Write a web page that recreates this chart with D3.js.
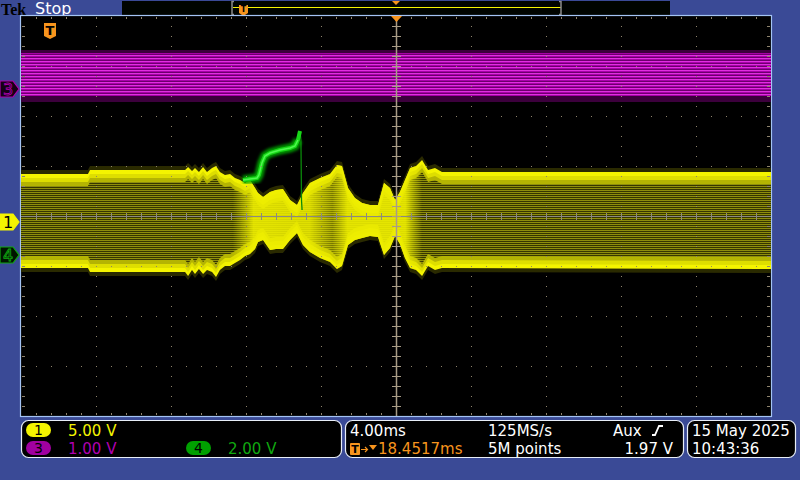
<!DOCTYPE html>
<html lang='en'>
<head>
<meta charset='UTF-8'>
<script src='https://d3js.org/d3.v7.min.js'></script>
<title>Tek Stop</title>
<style>
  body { margin: 0; background: #3a4a96; }
  svg { display: block; font-family: 'DejaVu Sans', sans-serif; }
</style>
</head>
<body>
<svg id='scope' width='800' height='480'></svg>
<script>
// ch1 envelope: time (ms, 0 = trigger) and min/max volts
const ch1Time = [-20, -16.43, -16.32, -11.25, -11.09, -10.88, -10.72, -10.51, -10.29, -10.08, -9.81, -9.60,
  -9.39, -9.12, -8.85, -8.59, -8.32, -8.05, -7.79, -7.52, -7.36, -7.09, -6.72, -6.40, -6.03, -5.65, -5.28,
  -4.96, -4.59, -4.05, -3.52, -3.15, -2.88, -2.56, -2.19, -1.81, -1.39, -0.96, -0.64, -0.32, -0.05, 0.21,
  0.48, 0.75, 1.07, 1.39, 1.71, 2.08, 2.45, 20]
const ch1Max = [4.8, 4.8, 5.2, 5.2, 5.5, 5.1, 5.4, 5.0, 5.5, 5.0, 5.4, 5.6,
  5.0, 4.7, 4.8, 4.4, 4.2, 3.9, 4.2, 3.4, 2.9, 2.5, 3.0, 3.2, 3.3, 2.2, 1.7,
  2.9, 3.9, 4.4, 4.8, 5.7, 5.6, 3.4, 2.4, 1.9, 1.7, 1.7, 3.9, 3.4, 2.2, 3.0,
  4.2, 5.4, 5.6, 6.2, 5.2, 5.4, 5.0, 5.0]
const ch1Min = [-4.6, -4.6, -5.0, -5.0, -5.4, -4.8, -5.2, -4.7, -5.2, -4.8, -5.0, -5.5,
  -4.8, -4.4, -4.4, -4.1, -3.8, -3.4, -3.2, -2.7, -2.0, -1.8, -2.8, -2.7, -2.7, -1.8, -1.1,
  -2.3, -3.0, -3.6, -4.0, -4.7, -4.4, -2.3, -1.8, -1.6, -1.4, -1.5, -3.3, -2.6, -1.4, -2.2,
  -3.6, -4.6, -4.8, -5.4, -4.4, -4.8, -4.6, -4.7]

// ch3 is a steady band
const ch3Band = [-0.14, 0.72]

// ch4 burst (time ms, volts)
const ch4Time = [-8.16, -7.79, -7.41, -7.31, -7.15, -6.99, -6.72, -6.19, -5.65, -5.39, -5.23, -5.12, -5.07, -5.04, -5.01]
const ch4Volts = [3.0, 3.04, 3.08, 3.2, 3.68, 3.96, 4.08, 4.2, 4.28, 4.36, 4.6, 4.96, 4.6, 2.2, 1.8]

// channel settings: volts/div and ground position (div from centre)
const channels = [
  {id: '1', vdiv: 5, pos: -0.12, label: '5.00 V', color: '#f4f400'},
  {id: '3', vdiv: 1, pos: 2.54, label: '1.00 V', color: '#b000b0'},
  {id: '4', vdiv: 2, pos: -0.78, label: '2.00 V', color: '#10a810'}
]
const timeLabels = ['4.00ms', '125MS/s', 'Aux', '18.4517ms', '5M points', '1.97 V']
const dateLabels = ['15 May 2025', '10:43:36']

const svg = d3.select('#scope')
const L = 21, R = 771, T = 16, B = 416
const xScale = d3.scaleLinear().domain([-20, 20]).range([L, R])
const yFor = c => d3.scaleLinear().domain([(-4 - c.pos) * c.vdiv, (4 - c.pos) * c.vdiv]).range([B, T])
const y1 = yFor(channels[0]), y3 = yFor(channels[1]), y4 = yFor(channels[2])

const defs = svg.append('defs')
// horizontal scan-line textures
let yp = defs.append('pattern').attr('id', 'ystripe').attr('patternUnits', 'userSpaceOnUse')
  .attr('width', 4).attr('height', 2)
yp.append('rect').attr('width', 4).attr('height', 2).attr('fill', '#363600')
yp.append('rect').attr('width', 4).attr('height', 1).attr('fill', '#8e8e0c')
let mp = defs.append('pattern').attr('id', 'mstripe').attr('patternUnits', 'userSpaceOnUse')
  .attr('width', 4).attr('height', 3).attr('y', 1)
mp.append('rect').attr('width', 4).attr('height', 3).attr('fill', '#a800a8')
mp.append('rect').attr('width', 4).attr('height', 1).attr('fill', '#e030e0')
mp.append('rect').attr('y', 2).attr('width', 4).attr('height', 1).attr('fill', '#6c006c')

// the modulated stretch shows up bright: mask a solid yellow layer in there
let g = defs.append('linearGradient').attr('id', 'brightGrad').attr('gradientUnits', 'userSpaceOnUse')
  .attr('x1', L).attr('x2', R).attr('y1', 0).attr('y2', 0)
;[[-8.7, 0], [-7.6, 0.9], [-4.6, 0.85], [-3.4, 0.35], [-2.6, 0.9], [0.5, 0.9], [1.4, 0]].forEach(s => {
  let v = Math.round(s[1] * 255)
  g.append('stop').attr('offset', (xScale(s[0]) - L) / (R - L)).attr('stop-color', `rgb(${v},${v},${v})`)
})
defs.append('mask').attr('id', 'brightMask').attr('maskUnits', 'userSpaceOnUse')
  .attr('x', 0).attr('y', 0).attr('width', 800).attr('height', 480)
  .append('rect').attr('width', 800).attr('height', 480).attr('fill', 'url(#brightGrad)')
defs.append('filter').attr('id', 'glow').append('feGaussianBlur').attr('stdDeviation', 1.8)

// ---- top bar ----
svg.append('text').attr('x', 1).attr('y', 15).text('Tek')
  .style('font-family', "'Liberation Serif', serif").style('font-weight', 'bold')
  .style('font-size', '16px').attr('fill', '#000')
svg.append('text').attr('x', 35).attr('y', 14).text('Stop')
  .style('font-size', '16px').attr('fill', '#fff')
svg.append('rect').attr('x', 122).attr('y', 1).attr('width', 548).attr('height', 14).attr('fill', '#000400')
svg.append('line').attr('x1', 233).attr('x2', 561).attr('y1', 7.5).attr('y2', 7.5)
  .attr('stroke', '#f4f400').attr('stroke-width', 1)
;[[232, 1], [561, -1]].forEach(b => {
  svg.append('path').attr('d', `M${b[0] + 2 * b[1]},1.5 H${b[0]} V14.5 H${b[0] + 2 * b[1]}`)
    .attr('fill', 'none').attr('stroke', '#8c8c8c').attr('stroke-width', 1.5)
})
function tMarker(x, y, w, h) {
  svg.append('path').attr('d', `M${x},${y} h${w} v${h - 3} l-${w / 2},3 l-${w / 2},-3 Z`).attr('fill', '#f7941d')
  svg.append('text').attr('x', x + w / 2).attr('y', y + h - 4).text('T').attr('text-anchor', 'middle')
    .style('font-size', `${h - 3}px`).style('font-weight', 'bold').attr('fill', '#000')
}
tMarker(239, 5, 9, 11)
svg.append('path').attr('d', 'M392,1 h8 l-4,4 Z').attr('fill', '#f7941d')

// ---- graticule frame ----
svg.append('rect').attr('x', L - 0.5).attr('y', T - 0.5).attr('width', R - L + 1).attr('height', B - T + 1)
  .attr('fill', '#000').attr('stroke', '#a4c4f4').attr('stroke-width', 1.2)

// ---- ch3 band ----
svg.append('rect').attr('x', L).attr('width', R - L)
  .attr('y', y3(ch3Band[1]) - 3).attr('height', y3(ch3Band[0]) - y3(ch3Band[1]) + 9).attr('fill', '#3c003c')
svg.append('rect').attr('x', L).attr('width', R - L)
  .attr('y', y3(ch3Band[1])).attr('height', y3(ch3Band[0]) - y3(ch3Band[1])).attr('fill', 'url(#mstripe)')

// ---- ch1 envelope, drawn as nested layers so the edges stay bright ----
let rows = ch1Time.map((t, i) => ({t: t, hi: y1(ch1Max[i]), lo: y1(ch1Min[i])}))
const inset = k => d3.area()
  .x(d => xScale(d.t))
  .y0(d => Math.max(d.lo - k, (d.hi + d.lo) / 2))
  .y1(d => Math.min(d.hi + k, (d.hi + d.lo) / 2))
svg.append('path').attr('d', inset(-4)(rows)).attr('fill', '#2a2a00')
svg.append('path').attr('d', inset(0)(rows)).attr('fill', '#f4f400')
svg.append('path').attr('d', inset(4)(rows)).attr('fill', '#dede00')
svg.append('path').attr('d', inset(8)(rows)).attr('fill', '#b4b402')
svg.append('path').attr('d', inset(12)(rows)).attr('fill', 'url(#ystripe)')
svg.append('path').attr('d', inset(0)(rows)).attr('fill', '#eeee00').attr('mask', 'url(#brightMask)')

// ---- ch4 trace ----
let peak = d3.maxIndex(ch4Volts)
let pts = ch4Time.map((t, i) => [xScale(t), y4(ch4Volts[i])])
let line = d3.line()
svg.append('path').attr('d', line(pts)).attr('fill', 'none').attr('stroke', '#0a8a0a').attr('stroke-width', 1.3)
svg.append('path').attr('d', line(pts.slice(0, peak))).attr('fill', 'none')
  .attr('stroke', '#00b000').attr('stroke-width', 9).attr('filter', 'url(#glow)').attr('opacity', 0.85)
svg.append('path').attr('d', line(pts.slice(0, peak + 1))).attr('fill', 'none')
  .attr('stroke', '#18d818').attr('stroke-width', 4)
svg.append('path').attr('d', line(pts.slice(0, peak))).attr('fill', 'none')
  .attr('stroke', '#50f850').attr('stroke-width', 1.5)

// ---- grid dots and ticks on top of the traces ----
let grid = svg.append('g').attr('fill', '#8e836c')
d3.range(1, 10).filter(i => i !== 5).forEach(i => {
  let x = L + i * 75
  d3.range(T + 10, B, 10).forEach(y => grid.append('rect').attr('x', x).attr('y', y).attr('width', 1).attr('height', 1))
})
d3.range(1, 8).filter(j => j !== 4).forEach(j => {
  let y = T + j * 50
  d3.range(L + 15, R, 15).forEach(x => grid.append('rect').attr('x', x).attr('y', y).attr('width', 1).attr('height', 1))
})
d3.range(L + 15, R, 15).forEach(x => {
  grid.append('rect').attr('x', x).attr('y', T + 1).attr('width', 1).attr('height', 2)
  grid.append('rect').attr('x', x).attr('y', B - 3).attr('width', 1).attr('height', 2)
})
d3.range(T + 10, B, 10).forEach(y => {
  grid.append('rect').attr('x', L + 1).attr('y', y).attr('width', 3).attr('height', 1)
  grid.append('rect').attr('x', R - 4).attr('y', y).attr('width', 3).attr('height', 1)
})
// centre crosshair
svg.append('line').attr('x1', L).attr('x2', R).attr('y1', 216.5).attr('y2', 216.5)
  .attr('stroke', '#8c8a80').attr('stroke-width', 1)
d3.range(L + 15, R, 15).forEach(x => {
  svg.append('rect').attr('x', x).attr('y', 213).attr('width', 1).attr('height', 7).attr('fill', '#8c8a80')
})
svg.append('line').attr('x1', 396.5).attr('x2', 396.5).attr('y1', T).attr('y2', B)
  .attr('stroke', '#a89c86').attr('stroke-width', 1.5)
d3.range(T + 10, B, 10).forEach(y => {
  svg.append('rect').attr('x', 392).attr('y', y).attr('width', 9).attr('height', 1).attr('fill', '#a89c86')
})
tMarker(44, 23, 12, 16)
svg.append('path').attr('d', 'M391,16 h11 l-5.5,6 Z').attr('fill', '#f7941d')

// ---- channel ground markers on the left ----
const markerStyle = {
  '1': {fill: '#f4f400', stroke: '#f4f400', text: '#000'},
  '3': {fill: '#160016', stroke: '#b000b0', text: '#000'},
  '4': {fill: '#001400', stroke: '#10a810', text: '#000'}
}
channels.forEach(c => {
  let y = yFor(c)(0), s = markerStyle[c.id]
  svg.append('path').attr('d', `M0,${y - 8} H13 L19,${y} L13,${y + 8} H0 Z`)
    .attr('fill', s.fill).attr('stroke', s.stroke).attr('stroke-width', 1.2)
  svg.append('text').attr('x', 8).attr('y', y + 6).text(c.id).attr('text-anchor', 'middle')
    .style('font-size', '16px').attr('fill', s.text)
    .attr('stroke', c.id === '1' ? 'none' : s.stroke).attr('stroke-width', 0.8)
})

// ---- bottom readout ----
function box(x, w) {
  svg.append('rect').attr('x', x + 0.5).attr('y', 420.5).attr('width', w).attr('height', 37).attr('rx', 7)
    .attr('fill', '#000').attr('stroke', '#e8eef8').attr('stroke-width', 1.2)
}
box(21, 320); box(345, 338); box(687, 108)

const badges = [{x: 26, y: 423, tx: 68}, {x: 26, y: 441, tx: 68}, {x: 186, y: 441, tx: 228}]
channels.forEach((c, i) => {
  let b = badges[i]
  svg.append('rect').attr('x', b.x).attr('y', b.y).attr('width', 25).attr('height', 14).attr('rx', 7)
    .attr('fill', c.id === '3' ? '#a000a0' : c.id === '4' ? '#00a000' : c.color)
  svg.append('text').attr('x', b.x + 12.5).attr('y', b.y + 12).text(c.id).attr('text-anchor', 'middle')
    .style('font-size', '14px').attr('fill', '#000')
  svg.append('text').attr('x', b.tx).attr('y', b.y + 13).text(c.label)
    .style('font-size', '15px').attr('fill', c.color)
})

let rowA = 436, rowB = 454
svg.append('text').attr('x', 350).attr('y', rowA).text(timeLabels[0]).style('font-size', '15px').attr('fill', '#fff')
svg.append('text').attr('x', 488).attr('y', rowA).text(timeLabels[1]).style('font-size', '15px').attr('fill', '#fff')
svg.append('text').attr('x', 613).attr('y', rowA).text(timeLabels[2]).style('font-size', '15px').attr('fill', '#fff')
svg.append('path').attr('d', 'M652,435 h3 l4,-9 h4').attr('fill', 'none').attr('stroke', '#fff').attr('stroke-width', 1.8)
// trigger position readout
svg.append('rect').attr('x', 350).attr('y', 443).attr('width', 10).attr('height', 12).attr('rx', 1).attr('fill', '#f7941d')
svg.append('text').attr('x', 355).attr('y', 453).text('T').attr('text-anchor', 'middle')
  .style('font-size', '11px').style('font-weight', 'bold').attr('fill', '#000')
svg.append('path').attr('d', 'M361,449.5 h6 M365,447 l2.5,2.5 l-2.5,2.5').attr('fill', 'none')
  .attr('stroke', '#f7941d').attr('stroke-width', 1.2)
svg.append('path').attr('d', 'M369,445 h8 l-4,5 Z').attr('fill', '#f7941d')
svg.append('text').attr('x', 378).attr('y', rowB).text(timeLabels[3]).style('font-size', '15px').attr('fill', '#f7941d')
svg.append('text').attr('x', 488).attr('y', rowB).text(timeLabels[4]).style('font-size', '15px').attr('fill', '#fff')
svg.append('text').attr('x', 673).attr('y', rowB).text(timeLabels[5]).attr('text-anchor', 'end')
  .style('font-size', '15px').attr('fill', '#fff')

svg.append('text').attr('x', 692).attr('y', rowA).text(dateLabels[0]).style('font-size', '15px').attr('fill', '#fff')
svg.append('text').attr('x', 692).attr('y', rowB).text(dateLabels[1]).style('font-size', '15px').attr('fill', '#fff')
</script>
</body>
</html>
